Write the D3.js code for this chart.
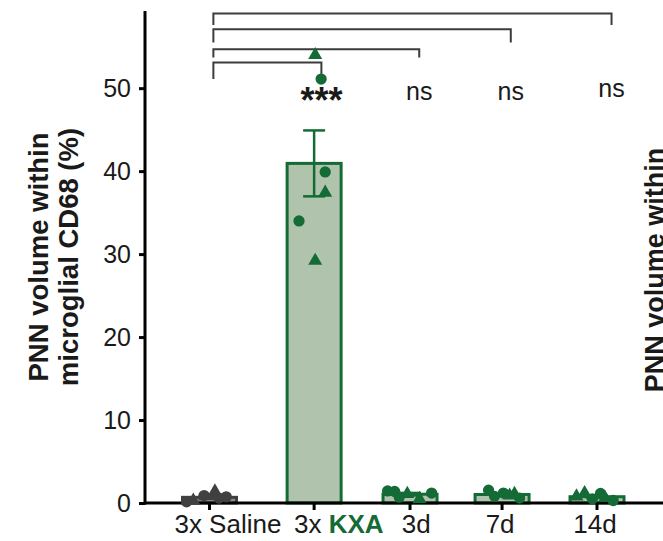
<!DOCTYPE html>
<html>
<head>
<meta charset="utf-8">
<script src="https://cdn.jsdelivr.net/npm/d3@7"></script>
<style>
	body { margin: 0; background: #fff; }
	svg text { font-family: Arial, "Liberation Sans", Helvetica, sans-serif; }
</style>
</head>
<body>
<script>
// DATA
var categories = ["3x Saline", "3x KXA", "3d", "7d", "14d"];
// group slots along x (the original layout is slightly uneven)
var slots = [0, 1.08, 2.07, 3.02, 4];
var labelSlots = [0.19, 1.335, 2.135, 3.0, 3.98];

var values = [
	[0.15, 0.3, 0.9, 1.4, 0.75, 0.6],
	[54.0, 51.1, 39.9, 37.4, 34.0, 29.2],
	[1.45, 1.4, 0.7, 1.1, 1.2, 0.5],
	[1.55, 0.8, 1.2, 1.1, 0.9, 0.6],
	[0.8, 1.2, 0.5, 1.15, 0.6, 0.3]
];
var shapes = [
	["c", "t", "c", "t", "c", "c"],
	["t", "c", "c", "t", "c", "t"],
	["c", "c", "c", "t", "c", "t"],
	["c", "c", "c", "t", "t", "c"],
	["t", "t", "c", "c", "t", "c"]
];
var jitter = [
	[-0.85, -0.6, -0.2, 0.2, 0.62, 0.35],
	[0.04, 0.26, 0.41, 0.41, -0.56, 0.04],
	[-0.83, -0.57, -0.4, -0.1, 0.8, 0.35],
	[-0.5, -0.28, 0.05, 0.46, 0.28, 0.65],
	[-0.76, -0.46, -0.17, 0.13, 0.3, 0.6]
];

var yTicks = [0, 10, 20, 30, 40, 50];

// comparisons against 3x Saline
var sigLabels = ["***", "ns", "ns", "ns"];
var sigSlots = [1.155, 2.165, 3.11, 4.15];
var bracketTop = [53.1, 54.7, 57.1, 59.0];
var bracketEnd = [51.1, 53.7, 55.5, 57.6];
var sigY = [47.0, 48.6, 48.6, 48.9];

// LAYOUT
var width = 663, height = 541;
var green = "#146b36", greenFill = "#b0c4ad";
var grey = "#404040", greyFill = "#8c8c8c";
var barW = 54;

var svg = d3.select("body").append("svg")
	.attr("width", width)
	.attr("height", height);

var x = d3.scaleLinear().domain([0, 4]).range([209.5, 597]);
var y = d3.scaleLinear().domain([0, 59.3]).range([503, 11]);

var groups = categories.map(function(c, i) {
	var v = values[i];
	var m = d3.mean(v);
	var sem = d3.deviation(v) / Math.sqrt(v.length);
	return { name: c, i: i, mean: m, sem: sem };
});

// y axis
var yAxis = svg.append("g")
	.attr("transform", "translate(145,0)")
	.call(d3.axisLeft(y).tickValues(yTicks).tickSize(6).tickPadding(8));
yAxis.select(".domain").remove();
yAxis.selectAll(".tick line").attr("stroke", "#000").attr("stroke-width", 3);
yAxis.selectAll(".tick text")
	.attr("fill", "#1a1a1a")
	.style("font-size", "25px");
svg.append("line")
	.attr("x1", 145).attr("x2", 145)
	.attr("y1", y.range()[1]).attr("y2", y(0) + 1.5)
	.attr("stroke", "#000").attr("stroke-width", 3);

// y label
var yl = svg.append("g").attr("transform", "translate(0,257) rotate(-90)");
yl.append("text").attr("y", 48).attr("text-anchor", "middle")
	.style("font-size", "27.5px").style("font-weight", "bold").attr("fill", "#1a1a1a")
	.text("PNN volume within");
yl.append("text").attr("y", 78).attr("text-anchor", "middle")
	.style("font-size", "27.5px").style("font-weight", "bold").attr("fill", "#1a1a1a")
	.text("microglial CD68 (%)");

// neighbouring panel label, cut off at the edge
svg.append("text")
	.attr("transform", "translate(664,270) rotate(-90)")
	.attr("text-anchor", "middle")
	.style("font-size", "27px").style("font-weight", "bold").attr("fill", "#1a1a1a")
	.text("PNN volume within");

// bars
svg.selectAll(".bar")
	.data(groups)
	.enter().append("rect")
		.attr("class", "bar")
		.attr("x", function(d) { return x(slots[d.i]) - barW / 2; })
		.attr("width", barW)
		.attr("y", function(d) { return y(d.mean); })
		.attr("height", function(d) { return y(0) - y(d.mean); })
		.attr("fill", function(d) { return d.i == 0 ? greyFill : greenFill; })
		.attr("stroke", function(d) { return d.i == 0 ? grey : green; })
		.attr("stroke-width", 3);

// error bars
var eb = svg.selectAll(".err")
	.data(groups)
	.enter().append("g")
		.attr("class", "err")
		.attr("stroke", function(d) { return d.i == 0 ? grey : green; })
		.attr("stroke-width", 2.5);
eb.append("line")
	.attr("x1", function(d) { return x(slots[d.i]); })
	.attr("x2", function(d) { return x(slots[d.i]); })
	.attr("y1", function(d) { return y(d.mean + d.sem); })
	.attr("y2", function(d) { return y(d.mean - d.sem); });
eb.selectAll(".cap")
	.data(function(d) { return [d.mean + d.sem, d.mean - d.sem].map(function(v) { return { i: d.i, v: v }; }); })
	.enter().append("line")
		.attr("x1", function(d) { return x(slots[d.i]) - 11; })
		.attr("x2", function(d) { return x(slots[d.i]) + 11; })
		.attr("y1", function(d) { return y(d.v); })
		.attr("y2", function(d) { return y(d.v); });

// x axis
svg.append("line")
	.attr("x1", 145).attr("x2", width)
	.attr("y1", y(0)).attr("y2", y(0))
	.attr("stroke", "#000").attr("stroke-width", 3);
svg.selectAll(".xtick")
	.data(slots)
	.enter().append("line")
		.attr("class", "xtick")
		.attr("x1", function(d) { return x(d); })
		.attr("x2", function(d) { return x(d); })
		.attr("y1", y(0)).attr("y2", y(0) + 7)
		.attr("stroke", "#000").attr("stroke-width", 3);

var xl = svg.selectAll(".xlabel")
	.data(categories)
	.enter().append("text")
		.attr("class", "xlabel")
		.attr("x", function(d, i) { return x(labelSlots[i]); })
		.attr("y", 533)
		.attr("text-anchor", "middle")
		.style("font-size", "26px")
		.attr("fill", "#1a1a1a");
xl.each(function(d) {
	var t = d3.select(this);
	if (d == "3x KXA") {
		t.append("tspan").text("3x ");
		t.append("tspan").attr("fill", green).style("font-weight", "bold").text("KXA");
	} else t.text(d);
});

// significance brackets
svg.selectAll(".bracket")
	.data(sigLabels)
	.enter().append("path")
		.attr("class", "bracket")
		.attr("fill", "none")
		.attr("stroke", "#3c3c3c")
		.attr("stroke-width", 2)
		.attr("d", function(d, i) {
			var x0 = x(0.04), x1 = x(sigSlots[i]);
			return "M" + x0 + "," + y(bracketEnd[i]) + "V" + y(bracketTop[i]) +
				"H" + x1 + "V" + y(bracketEnd[i]);
		});

svg.selectAll(".sig")
	.data(sigLabels)
	.enter().append("text")
		.attr("class", "sig")
		.attr("x", function(d, i) { return x(sigSlots[i]); })
		.attr("y", function(d, i) { return y(sigY[i]); })
		.attr("text-anchor", "middle")
		.attr("fill", "#1a1a1a")
		.style("font-size", function(d) { return d == "***" ? "36px" : "25px"; })
		.style("font-weight", function(d) { return d == "***" ? "bold" : "normal"; })
		.text(function(d) { return d; });

// individual points
var pts = [];
values.forEach(function(v, gi) {
	v.forEach(function(val, k) {
		pts.push({ g: gi, v: val, s: shapes[gi][k], j: jitter[gi][k] });
	});
});
var circleSym = d3.symbol().type(d3.symbolCircle).size(100);
var triSym = d3.symbol().type(d3.symbolTriangle).size(85);

svg.selectAll(".pt")
	.data(pts)
	.enter().append("path")
		.attr("class", "pt")
		.attr("transform", function(d) {
			return "translate(" + (x(slots[d.g]) + d.j * barW / 2) + "," + y(d.v) + ")";
		})
		.attr("d", function(d) { return d.s == "t" ? triSym() : circleSym(); })
		.attr("fill", function(d) { return d.g == 0 ? grey : green; });
</script>
</body>
</html>
